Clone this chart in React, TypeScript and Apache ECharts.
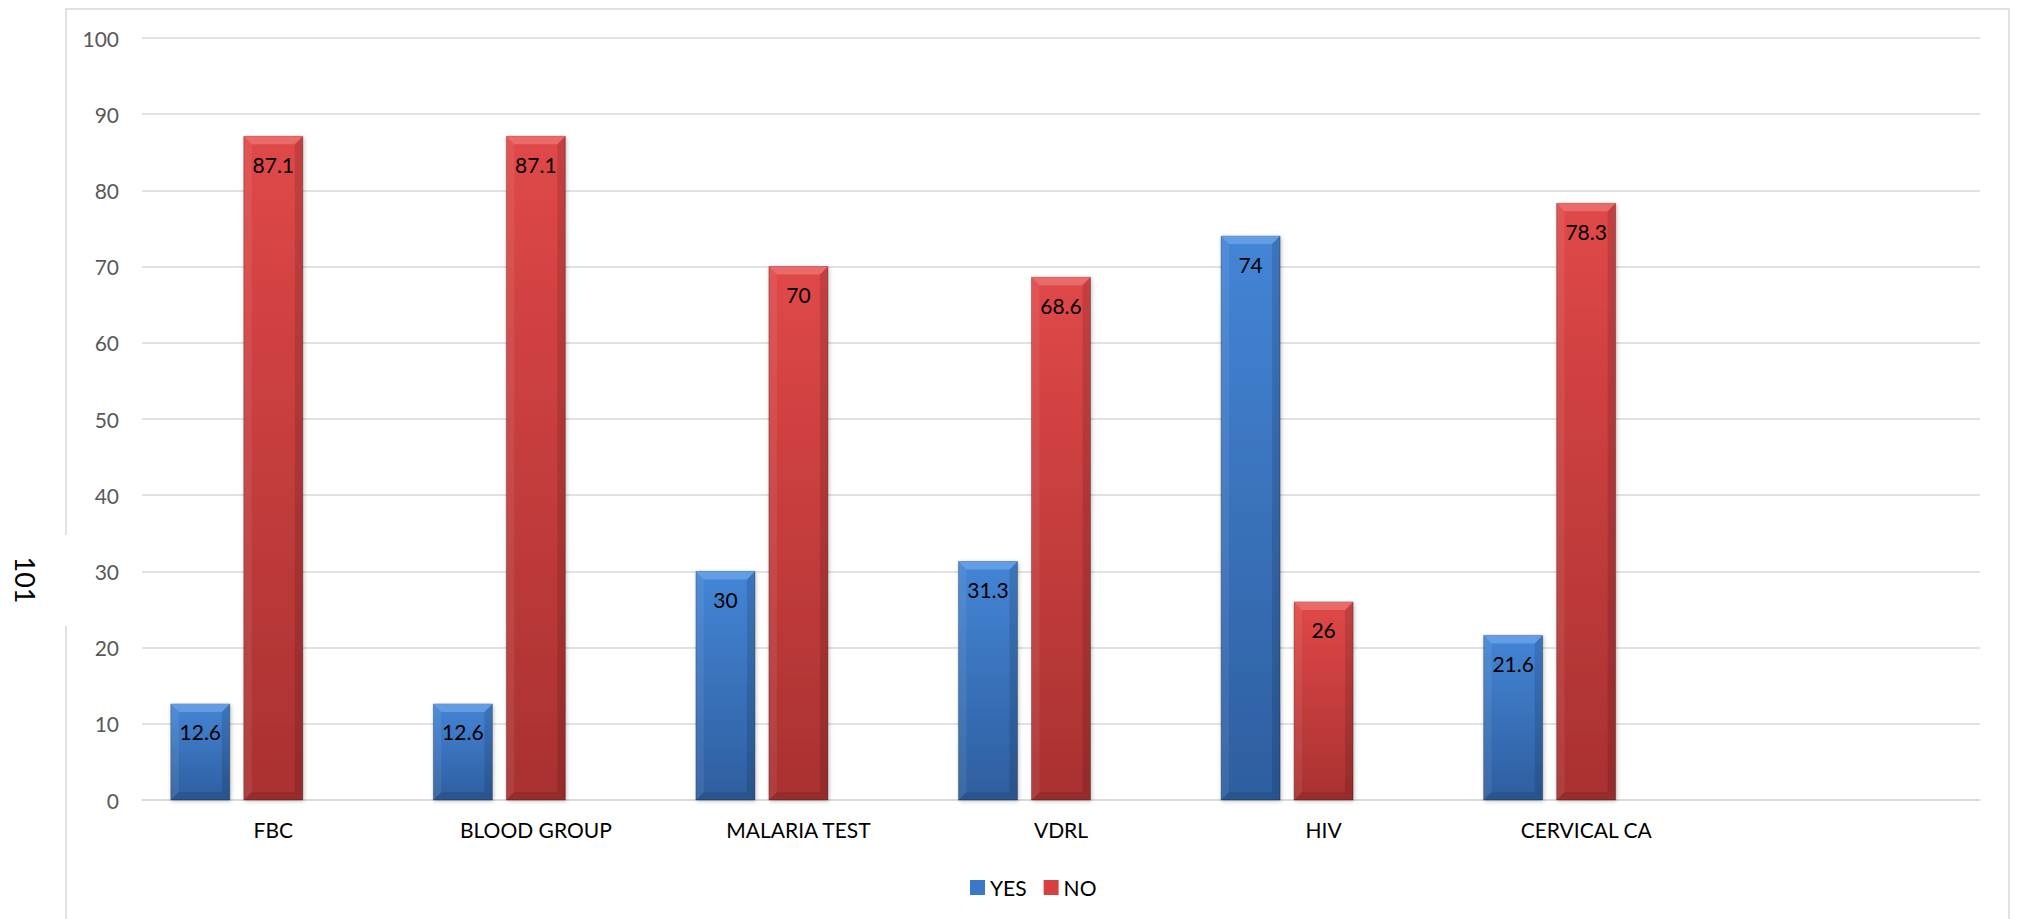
import React, { useEffect, useRef } from "react";
import * as echarts from "echarts";

const categories = ["FBC", "BLOOD GROUP", "MALARIA TEST", "VDRL", "HIV", "CERVICAL CA", ""];
const yesValues = [12.6, 12.6, 30, 31.3, 74, 21.6];
const noValues = [87.1, 87.1, 70, 68.6, 26, 78.3];
const seriesNames = ["YES", "NO"];
const yMin = 0;
const yMax = 100;
const yInterval = 10;
const sideTitle = "101";

const FONT = "Lato, 'Open Sans', sans-serif";

const palette = [
  { base: "#3b78c8", top: "#4485d6", bottom: "#2e5e9f", bevelTop: "#69a1e6" },
  { base: "#d64040", top: "#e04848", bottom: "#a93131", bevelTop: "#ec7070" },
];

function makeRender(slot: number) {
  const c = palette[slot];
  return (params: any, api: any) => {
    const cat = api.value(0);
    const v = api.value(1);
    const base = api.coord([cat, 0]);
    const top = api.coord([cat, v]);
    const band = api.size([1, 0])[0];
    const bw = (band * 59) / 262.6;
    const gap = (band * 14) / 262.6;
    const total = 3 * bw + 2 * gap;
    const start = base[0] - band / 2 + (band - total) / 2;
    const x0 = start + slot * (bw + gap);
    const x1 = x0 + bw;
    const y0 = top[1];
    const y1 = base[1];
    const h = y1 - y0;
    const b = Math.min(8, h / 2);
    return {
      type: "group",
      children: [
        {
          type: "rect",
          shape: { x: x0, y: y0, width: bw, height: h },
          style: {
            fill: new echarts.graphic.LinearGradient(0, 0, 0, 1, [
              { offset: 0, color: c.top },
              { offset: 1, color: c.bottom },
            ]),
            stroke: "rgba(0,0,0,0.28)",
            lineWidth: 1,
            shadowColor: "rgba(0,0,0,0.25)",
            shadowBlur: 4,
            shadowOffsetX: 1,
            shadowOffsetY: 1,
          },
        },
        {
          type: "polygon",
          shape: { points: [[x0, y0], [x1, y0], [x1 - b, y0 + b], [x0 + b, y0 + b]] },
          style: { fill: c.bevelTop, opacity: 0.85 },
        },
        {
          type: "polygon",
          shape: { points: [[x0, y0], [x0 + b, y0 + b], [x0 + b, y1 - b], [x0, y1]] },
          style: { fill: "rgba(255,255,255,0.07)" },
        },
        {
          type: "polygon",
          shape: { points: [[x1, y0], [x1 - b, y0 + b], [x1 - b, y1 - b], [x1, y1]] },
          style: { fill: "rgba(0,0,0,0.12)" },
        },
        {
          type: "polygon",
          shape: { points: [[x0, y1], [x0 + b, y1 - b], [x1 - b, y1 - b], [x1, y1]] },
          style: { fill: "rgba(0,0,0,0.1)" },
        },
        {
          type: "text",
          style: {
            text: String(v),
            x: (x0 + x1) / 2,
            y: y0 + 28,
            align: "center",
            verticalAlign: "middle",
            fill: "#000",
            fontSize: 21,
            fontFamily: FONT,
          },
        },
      ],
    };
  };
}

export default function App() {
  const ref = useRef<HTMLDivElement>(null);
  useEffect(() => {
    document.documentElement.style.overflow = "hidden";
    document.body.style.overflow = "hidden";
    const chart = echarts.init(ref.current!, null, { renderer: "svg" });
    const option: any = {
      animation: false,
      backgroundColor: "#fff",
      textStyle: { fontFamily: FONT },
      grid: { left: 134, top: 30, right: 39, bottom: 119, containLabel: false },
      legend: {
        data: seriesNames,
        left: 957,
        top: 864,
        icon: "rect",
        itemWidth: 15,
        itemHeight: 15,
        itemGap: 17,
        textStyle: { color: "#000", fontSize: 21, fontFamily: FONT },
      },
      xAxis: {
        type: "category",
        data: categories,
        axisTick: { show: false },
        axisLine: { show: true, lineStyle: { color: "#d9d9d9", width: 1.5 } },
        axisLabel: { color: "#000", fontSize: 21, fontFamily: FONT, margin: 19, interval: 0 },
      },
      yAxis: {
        type: "value",
        min: yMin,
        max: yMax,
        interval: yInterval,
        axisLine: { show: false },
        axisTick: { show: false },
        splitLine: { lineStyle: { color: "#d9d9d9", width: 1.5 } },
        axisLabel: { color: "#595959", fontSize: 21, fontFamily: FONT, margin: 23 },
      },
      series: [
        {
          name: seriesNames[0],
          type: "custom",
          itemStyle: { color: palette[0].base },
          encode: { x: 0, y: 1 },
          data: yesValues.map((v, i) => [i, v]),
          renderItem: makeRender(0),
          z: 3,
        },
        {
          name: seriesNames[1],
          type: "custom",
          itemStyle: { color: palette[1].base },
          encode: { x: 0, y: 1 },
          data: noValues.map((v, i) => [i, v]),
          renderItem: makeRender(1),
          z: 3,
        },
      ],
      graphic: [
        {
          type: "rect",
          shape: { x: 58, y: 1, width: 1943, height: 1000 },
          style: { fill: "none", stroke: "#d9d9d9", lineWidth: 1.5 },
          z: -10,
          silent: true,
        },
        {
          type: "rect",
          shape: { x: 52, y: 527, width: 12, height: 91 },
          style: { fill: "#fff" },
          z: -5,
          silent: true,
        },
        {
          type: "text",
          x: 17,
          y: 572,
          rotation: -Math.PI / 2,
          style: {
            text: sideTitle,
            align: "center",
            verticalAlign: "middle",
            fill: "#000",
            fontSize: 27,
            fontFamily: FONT,
          },
          silent: true,
        },
      ],
    };
    chart.setOption(option);
    return () => chart.dispose();
  }, []);
  return (
    <div
      ref={ref}
      style={{ position: "absolute", left: 8, top: 8, width: 2011, height: 911 }}
    />
  );
}
